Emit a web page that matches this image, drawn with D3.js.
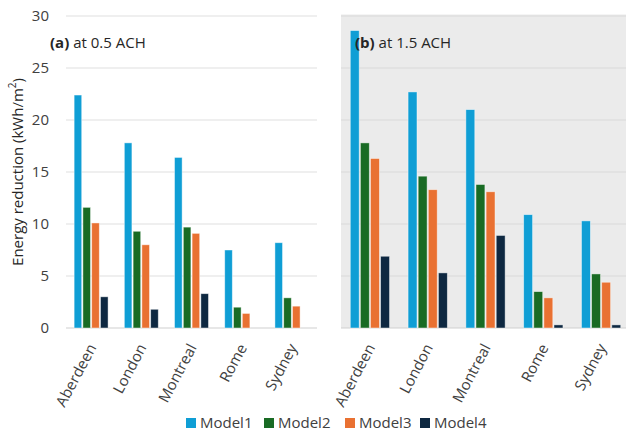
<!DOCTYPE html>
<html>
<head>
<meta charset="utf-8">
<script src="https://cdn.jsdelivr.net/npm/d3@7"></script>
<style>
  html, body { margin: 0; padding: 0; background: #fff; }
  svg { display: block; font-family: "Open Sans", sans-serif; }
</style>
</head>
<body>
<svg id="chart" width="626" height="435"></svg>
<script>
// Cities and models
const categories = ["Aberdeen", "London", "Montreal", "Rome", "Sydney"];
const seriesNames = ["Model1", "Model2", "Model3", "Model4"];
const seriesColors = ["#0F9ED5", "#196B24", "#E97132", "#0E2841"];

// Energy reduction (kWh/m²) at 0.5 ACH
const model1At05 = [22.4, 17.8, 16.4, 7.5, 8.2];
const model2At05 = [11.6, 9.3, 9.7, 2.0, 2.9];
const model3At05 = [10.1, 8.0, 9.1, 1.4, 2.1];
const model4At05 = [3.0, 1.8, 3.3, 0, 0];

// Energy reduction (kWh/m²) at 1.5 ACH
const model1At15 = [28.6, 22.7, 21.0, 10.9, 10.3];
const model2At15 = [17.8, 14.6, 13.8, 3.5, 5.2];
const model3At15 = [16.3, 13.3, 13.1, 2.9, 4.4];
const model4At15 = [6.9, 5.3, 8.9, 0.3, 0.3];

const yTicks = [0, 5, 10, 15, 20, 25, 30];

const panels = [
  { tag: "(a)", text: " at 0.5 ACH", series: [model1At05, model2At05, model3At05, model4At05],
    x0: 66, x1: 317, bg: null, showAxis: true },
  { tag: "(b)", text: " at 1.5 ACH", series: [model1At15, model2At15, model3At15, model4At15],
    x0: 341, x1: 630, bg: "#EBEBEB", showAxis: false }
];

const svg = d3.select("#chart");
const y = d3.scaleLinear().domain([0, 30]).range([328, 16]);

panels.forEach(p => {
  const g = svg.append("g");
  const x = d3.scaleBand().domain(categories).range([p.x0, p.x1]).paddingInner(0.3).paddingOuter(0.15);
  const xs = d3.scaleBand().domain(seriesNames).range([0, x.bandwidth()]);

  if (p.bg) {
    g.append("rect")
      .attr("x", p.x0).attr("y", y(30) - 1.5)
      .attr("width", p.x1 - p.x0).attr("height", y(0) - y(30) + 1.5)
      .attr("fill", p.bg);
  }

  // horizontal gridlines
  g.selectAll("line.grid").data(yTicks).join("line")
    .attr("class", "grid")
    .attr("x1", p.x0).attr("x2", p.x1)
    .attr("y1", d => y(d)).attr("y2", d => y(d))
    .attr("stroke", d => d === 0 ? "#D0D0D0" : (p.bg ? "#DADADA" : "#E0E0E0"))
    .attr("stroke-width", 1.2);

  // y tick labels
  if (p.showAxis) {
    const axis = d3.axisLeft(y).tickValues(yTicks).tickSize(0).tickPadding(0);
    const ag = g.append("g").attr("transform", `translate(49,0)`).call(axis);
    ag.select(".domain").remove();
    ag.selectAll("text").attr("font-size", 15).attr("fill", "#404040")
      .attr("font-family", "'Open Sans', sans-serif");
  }

  // bars
  p.series.forEach((vals, si) => {
    g.selectAll(null).data(vals.map((v, i) => ({ v, c: categories[i] }))).join("rect")
      .filter(d => d.v > 0)
      .attr("x", d => x(d.c) + xs(seriesNames[si]) + 0.6)
      .attr("width", xs.bandwidth() - 1.2)
      .attr("y", d => y(d.v))
      .attr("height", d => y(0) - y(d.v))
      .attr("fill", seriesColors[si])
      .attr("stroke", "#ffffff")
      .attr("stroke-opacity", 0.55)
      .attr("stroke-width", 0.8);
  });

  // category labels
  const xAxis = d3.axisBottom(x).tickSize(0).tickPadding(0);
  const xg = g.append("g").attr("transform", `translate(0,${y(0)})`).call(xAxis);
  xg.select(".domain").remove();
  xg.selectAll("text")
    .attr("font-size", 15).attr("fill", "#404040")
    .attr("font-family", "'Open Sans', sans-serif")
    .attr("text-anchor", "end")
    .attr("dy", "0.35em")
    .attr("transform", "translate(1,17) rotate(-62)");

  // panel title
  const t = g.append("text")
    .attr("x", p.x0 + (p.bg ? 14 : -16)).attr("y", 48)
    .attr("font-size", 15).attr("fill", "#262626");
  t.append("tspan").attr("font-weight", "bold").text(p.tag);
  t.append("tspan").text(p.text);
});

// y axis title
svg.append("text")
  .attr("transform", "translate(23,172) rotate(-90)")
  .attr("text-anchor", "middle")
  .attr("font-size", 15).attr("fill", "#262626")
  .text("Energy reduction (kWh/m")
  .append("tspan").attr("baseline-shift", "super").attr("font-size", 10).text("2")
  .select(function() { return this.parentNode; })
  .append("tspan").text(")");

// legend
const legendX = [186, 264, 345, 420];
const lg = svg.append("g");
seriesNames.forEach((name, i) => {
  lg.append("rect").attr("x", legendX[i]).attr("y", 418)
    .attr("width", 10).attr("height", 10).attr("fill", seriesColors[i]);
  lg.append("text").attr("x", legendX[i] + 14).attr("y", 423)
    .attr("dy", "0.35em").attr("font-size", 15).attr("fill", "#404040").text(name);
});
</script>
</body>
</html>
